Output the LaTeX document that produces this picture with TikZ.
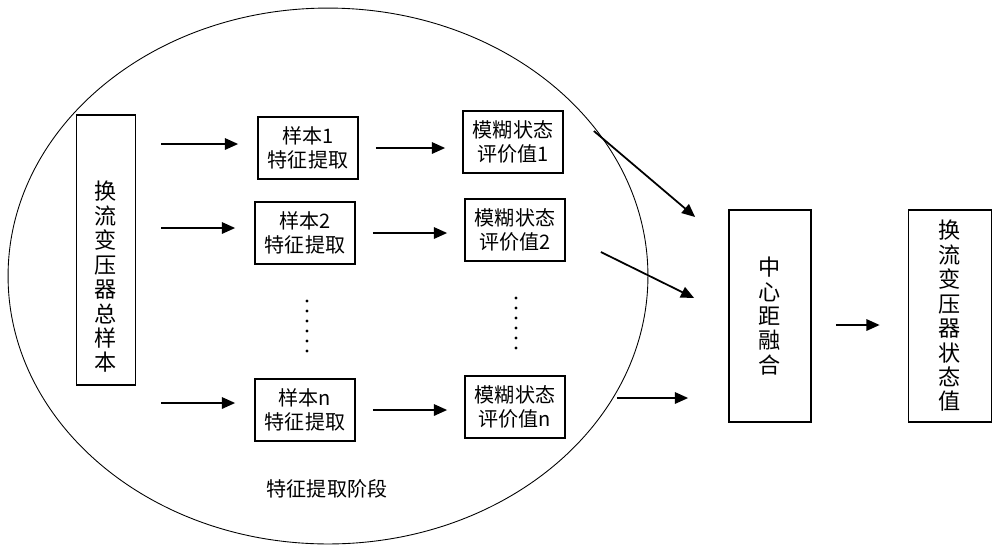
\documentclass[tikz,border=0pt]{standalone}
\usepackage{fontspec}
\setmainfont{Noto Sans CJK SC}
\usetikzlibrary{arrows.meta}

\begin{document}
\begin{tikzpicture}[x=0.02cm,y=-0.02cm,
  txt/.style={align=center,inner sep=0pt,font=\fontsize{11.4pt}{14pt}\selectfont},
  vtxt/.style={align=center,inner sep=0pt,font=\fontsize{12.6pt}{13.9pt}\selectfont},
  box/.style={txt,draw,line width=1pt,minimum width=2cm,minimum height=1.24cm},
  tall/.style={vtxt,draw,line width=1pt,minimum height=4.24cm},
  arr/.style={-{Triangle[length=7.5pt,width=6.5pt]},line width=1pt},
  gap/.style={shorten <=0.5cm,shorten >=0.38cm}]
\useasboundingbox (0,0) rectangle (1000,556);

% Stage
\draw[line width=0.5pt] (328,276) ellipse [x radius=6.4cm, y radius=5.36cm];
\node[txt] (stage) at (327,489) {特征提取阶段};

% Total sample
\node[tall,minimum width=1.18cm,minimum height=5.4cm] (total) at (106,250) {};
\node[vtxt] (totaltext) at (106,277) {换\\流\\变\\压\\器\\总\\样\\本};

% Feature extraction
\node[box] (s1) at (308,148) {样本1\\特征提取};
\node[box] (s2) at (305,233) {样本2\\特征提取};
\node[box] (sn) at (305,410) {样本n\\特征提取};

% Fuzzy evaluation
\node[box] (f1) at (513,142) {模糊状态\\评价值1};
\node[box] (f2) at (515,230) {模糊状态\\评价值2};
\node[box] (fn) at (515,407) {模糊状态\\评价值n};

% Dots
\foreach \k in {0,...,5} {
  \fill (307,301+10*\k) circle (0.9pt);
  \fill (516,298+10*\k) circle (0.9pt);
}

% Fusion
\node[tall,minimum width=1.64cm] (fuse) at (770,316) {中\\心\\距\\融\\合};
\node[tall,minimum width=1.66cm] (out) at (950,316) {换\\流\\变\\压\\器\\状\\态\\值};

% Arrows
\draw[arr,gap] ([yshift=0.08cm]total.east |- s1.west) -- ([yshift=0.08cm]s1.west);
\draw[arr,gap] ([yshift=0.1cm]total.east |- s2.west) -- ([yshift=0.1cm]s2.west);
\draw[arr,gap] ([yshift=0.14cm]total.east |- sn.west) -- ([yshift=0.14cm]sn.west);
\foreach \a/\b in {s1/f1,s2/f2,sn/fn}
  \draw[arr,shorten <=0.34cm,shorten >=0.34cm] (\a.east) -- (\a.east -| \b.west);
\draw[arr] ([shift={(30,-11)}]f1.east) -- ([shift={(-33,-99)}]fuse.west);
\draw[arr] ([shift={(35,22)}]f2.east) -- ([shift={(-34,-18)}]fuse.west);
\draw[arr] ([shift={(51,-9)}]fn.east) -- ([shift={(-40,-9)}]fn.east -| fuse.west);
\draw[arr] ([shift={(24,9)}]fuse.east) -- ([shift={(-28,9)}]out.west);
\end{tikzpicture}
\end{document}
